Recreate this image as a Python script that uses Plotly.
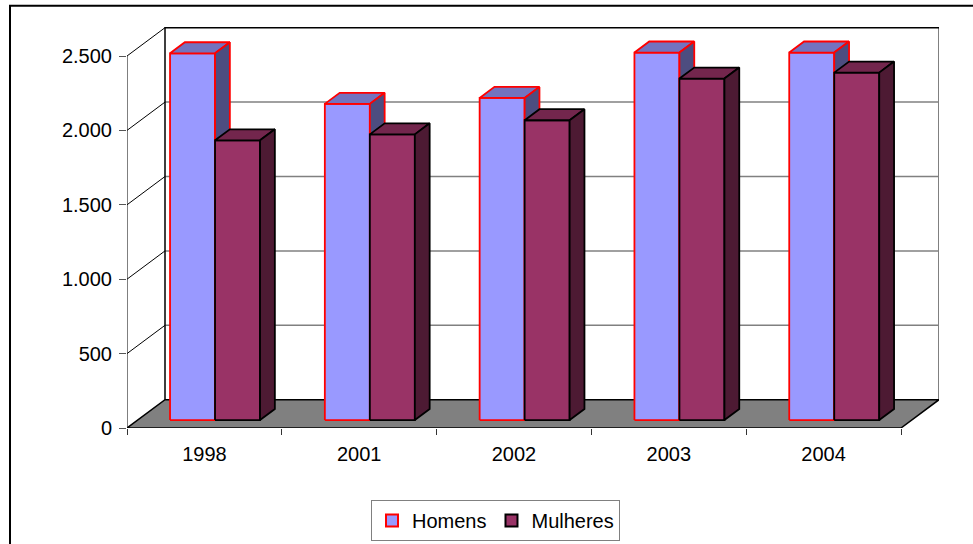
import plotly.graph_objects as go

# ---------------- data ----------------
categories = ["1998", "2001", "2002", "2003", "2004"]
homens = [2465, 2125, 2165, 2470, 2470]
mulheres = [1880, 1920, 2015, 2295, 2335]
series_names = ["Homens", "Mulheres"]
y_tick_values = [0, 500, 1000, 1500, 2000, 2500]
y_tick_labels = ["0", "500", "1.000", "1.500", "2.000", "2.500"]

# ---------------- geometry / style (page pixels) ----------------
W, H = 973, 544
PLOT_L, PLOT_R, PLOT_T, PLOT_B = 127, 939, 26, 428
CAT_PX = 154.8                 # pixels per category
VAL_PX = 74.4 / 500            # pixels per value unit
DEPTH_DX_PX, DEPTH_DY_PX = 38.0, 28.3
BAR_PX = 45.0
T_FRONT, T_BACK = 0.28, 0.67
Y_TOP = y_tick_values[-1]
N = len(categories)

x_range = [0, (PLOT_R - PLOT_L) / CAT_PX]
y_range = [0, (PLOT_B - PLOT_T) / VAL_PX]


def depth(t):
    return t * DEPTH_DX_PX / CAT_PX, t * DEPTH_DY_PX / VAL_PX


WX, WY = depth(1.0)
FX, FY = depth(T_FRONT)
BX, BY = depth(T_BACK)
BAR_W = BAR_PX / CAT_PX

styles = {
    "Homens": dict(front="#9999FF", top="#7373BF", side="#4D4D80", line="#FF0000"),
    "Mulheres": dict(front="#993366", top="#73264D", side="#4D1A33", line="#000000"),
}

fig = go.Figure()


def seg_trace(xs, ys, color, width):
    fig.add_trace(go.Scatter(x=xs, y=ys, mode="lines", line=dict(color=color, width=width),
                             showlegend=False, hoverinfo="skip"))


def poly(xs, ys, fill, line, width):
    fig.add_trace(go.Scatter(x=xs + [xs[0]], y=ys + [ys[0]], mode="lines", fill="toself",
                             fillcolor=fill, line=dict(color=line, width=width),
                             showlegend=False, hoverinfo="skip"))


# back wall gridlines (gray)
gx, gy = [], []
for v in y_tick_values[1:-1]:
    gx += [WX, N + WX, None]
    gy += [v + WY, v + WY, None]
seg_trace(gx, gy, "#808080", 1.5)

# side wall diagonals (black)
dx_, dy_ = [], []
for v in y_tick_values[1:]:
    dx_ += [0, WX, None]
    dy_ += [v, v + WY, None]
seg_trace(dx_, dy_, "#000000", 1)

# back wall right edge (gray)
seg_trace([N + WX, N + WX], [WY, Y_TOP + WY], "#808080", 2)
# back wall left edge and top (black)
seg_trace([WX, WX, N + WX], [WY, Y_TOP + WY, Y_TOP + WY], "#000000", 1.5)
# front value axis line
seg_trace([0, 0], [0, Y_TOP], "#000000", 1)

# floor
poly([0, N, N + WX, WX], [0, 0, WY, WY], "#808080", "#000000", 1.5)

# bars
for i in range(N):
    center = i + 0.5 + FX
    for j, (name, vals) in enumerate(zip(series_names, [homens, mulheres])):
        st = styles[name]
        v = vals[i]
        x0 = center - BAR_W + j * BAR_W
        x1 = x0 + BAR_W
        b = FY
        ddx, ddy = BX - FX, BY - FY
        # front
        poly([x0, x1, x1, x0], [b, b, b + v, b + v], st["front"], st["line"], 1.8)
        # top
        poly([x0, x1, x1 + ddx, x0 + ddx], [b + v, b + v, b + v + ddy, b + v + ddy],
             st["top"], st["line"], 1.8)
        # side
        poly([x1, x1, x1 + ddx, x1 + ddx], [b + v, b, b + ddy, b + v + ddy],
             st["side"], st["line"], 1.8)

# legend entries
for name in series_names:
    st = styles[name]
    fig.add_trace(go.Bar(x=[None], y=[None], name=name,
                         marker=dict(color=st["front"], line=dict(color=st["line"], width=2))))

plot_h = PLOT_B - PLOT_T
plot_w = PLOT_R - PLOT_L

fig.update_layout(
    width=W, height=H,
    margin=dict(l=PLOT_L, r=W - PLOT_R, t=PLOT_T, b=H - PLOT_B, pad=0, autoexpand=False),
    paper_bgcolor="white", plot_bgcolor="white",
    font=dict(family="Liberation Sans, Arial, sans-serif", size=20, color="black"),
    showlegend=True,
    hovermode=False,
    legend=dict(orientation="h", x=(495.5 - PLOT_L) / plot_w, xanchor="center",
                y=(PLOT_B - 500) / plot_h, yanchor="top",
                bordercolor="#808080", borderwidth=1, bgcolor="white",
                font=dict(size=20), itemwidth=30),
    xaxis=dict(range=x_range, showgrid=False, zeroline=False, showline=False,
               tickmode="array", tickvals=[i + 0.5 for i in range(N)], ticktext=categories,
               ticks="", ticklabelstandoff=12, automargin=False,
               minor=dict(tickmode="array", tickvals=list(range(N + 1)), ticks="outside",
                          ticklen=6, tickcolor="#333333", tickwidth=1),
               fixedrange=True),
    yaxis=dict(range=y_range, showgrid=False, zeroline=False, showline=False,
               tickmode="array", tickvals=y_tick_values, ticktext=y_tick_labels,
               ticks="outside", ticklen=7, tickcolor="#555555", tickwidth=1,
               ticklabelstandoff=3, automargin=False, fixedrange=True),
    shapes=[dict(type="rect", xref="paper", yref="paper",
                 x0=(10 - PLOT_L) / plot_w, x1=(W + 20 - PLOT_L) / plot_w,
                 y0=(PLOT_B - H - 20) / plot_h, y1=(PLOT_B - 5.7) / plot_h,
                 line=dict(color="black", width=2), fillcolor="rgba(0,0,0,0)", layer="below")],
)

fig.write_html("out.html", config={"displayModeBar": False},
               post_script="document.body.style.margin='0px';"
                           "document.body.style.overflow='hidden';")
